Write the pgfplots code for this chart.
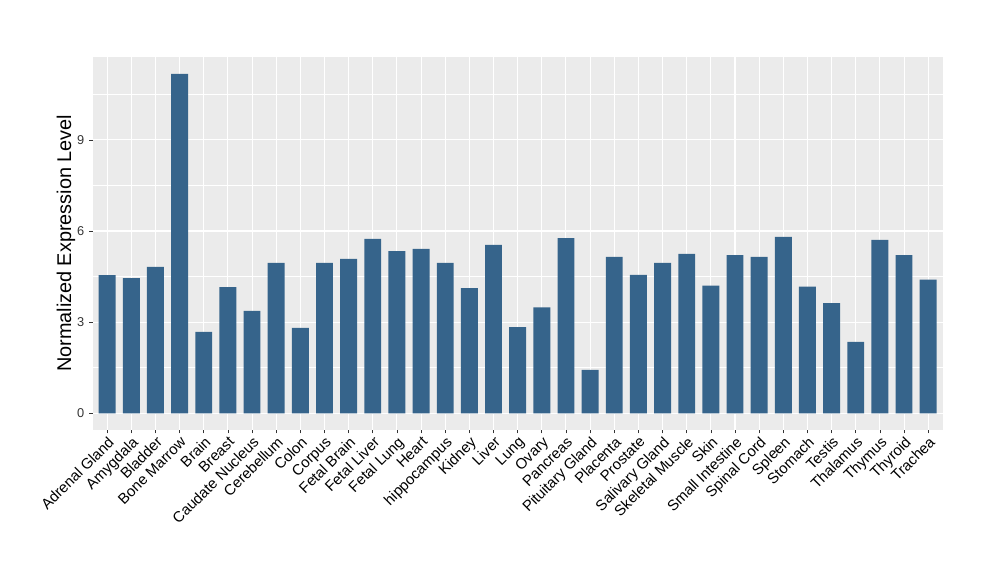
\documentclass[border=0pt]{standalone}
\usepackage{fontspec}
\setmainfont{Liberation Sans}
\usepackage{pgfplots}
\usepackage{pgfplotstable}
\pgfplotsset{compat=1.18}
\definecolor{barcol}{HTML}{36648B}
\definecolor{panel}{HTML}{EBEBEB}
\definecolor{tickc}{HTML}{333333}
\pgfplotstableread{
x y
0 4.55
1 4.45
2 4.82
3 11.17
4 2.68
5 4.15
6 3.37
7 4.95
8 2.81
9 4.95
10 5.08
11 5.74
12 5.34
13 5.41
14 4.95
15 4.12
16 5.54
17 2.84
18 3.49
19 5.77
20 1.43
21 5.15
22 4.56
23 4.95
24 5.25
25 4.20
26 5.21
27 5.15
28 5.81
29 4.17
30 3.63
31 2.35
32 5.71
33 5.21
34 4.40
}\data
\begin{document}
\begin{tikzpicture}
\path[use as bounding box] (0,0) rectangle (750pt,435pt);
\begin{axis}[
 at={(69.5pt,112.5pt)}, anchor=south west,
 scale only axis, width=637.5pt, height=280pt,
 xmin=-0.6, xmax=34.6, ymin=-0.55, ymax=11.74,
 axis line style={draw=none},
 axis background/.style={fill=panel},
 xtick={0,...,34},
 xticklabels={Adrenal Gland,Amygdala,Bladder,Bone Marrow,Brain,Breast,Caudate Nucleus,Cerebellum,Colon,Corpus,Fetal Brain,Fetal Liver,Fetal Lung,Heart,hippocampus,Kidney,Liver,Lung,Ovary,Pancreas,Pituitary Gland,Placenta,Prostate,Salivary Gland,Skeletal Muscle,Skin,Small Intestine,Spinal Cord,Spleen,Stomach,Testis,Thalamus,Thymus,Thyroid,Trachea},
 ytick={0,3,6,9}, minor ytick={1.5,4.5,7.5,10.5},
 grid=both,
 major grid style={white, line width=0.8pt},
 minor grid style={white, line width=0.4pt},
 tick align=outside, tick pos=left,
 major tick length=2.6pt, minor tick length=0pt,
 tick style={tickc, line width=0.5pt},
 x tick label style={rotate=45, anchor=north east, font=\fontsize{11.2}{12}\selectfont, text=black, inner sep=1pt},
 y tick label style={font=\fontsize{9.6}{11}\selectfont, text=tickc, inner sep=2pt, xshift=-1.5pt},
 /pgf/number format/assume math mode=true,
 ylabel={Normalized Expression Level},
 ylabel style={font=\fontsize{14.9}{16}\selectfont, at={(axis description cs:-0.0314,0.5)}, anchor=center},
]
\addplot[ybar, bar width=0.7, fill=barcol, draw=none] table[x=x,y=y]{\data};
\end{axis}
\end{tikzpicture}
\end{document}
